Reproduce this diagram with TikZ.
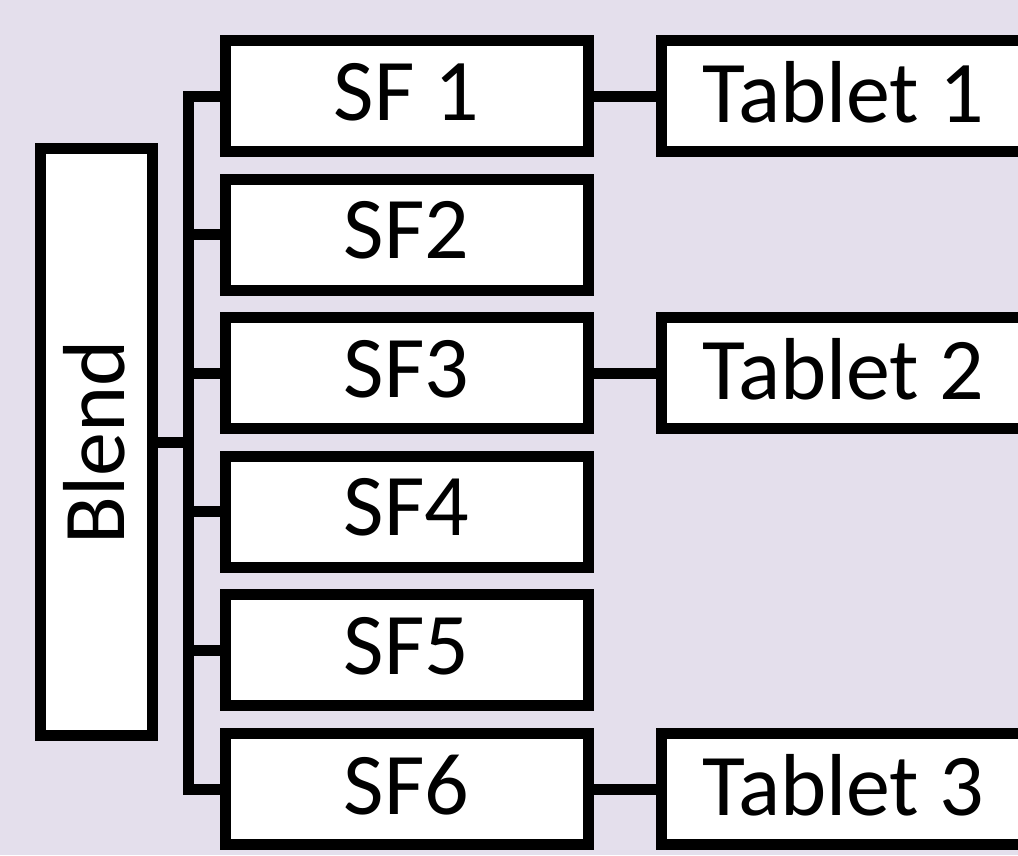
\documentclass[tikz,border=0pt]{standalone}
\usepackage{fontspec}
\setmainfont{Carlito}
\usetikzlibrary{
  positioning,
  calc}
\definecolor{bgcolor}{RGB}{228,223,236}
\tikzset{
  %% sfbox : a split fraction of the blend
  sfbox/.style={
    rectangle,
    draw=black,
    fill=white,
    line width=11pt,
    minimum width=363pt,
    minimum height=111pt,
    font=\fontsize{88}{100}\selectfont,
    text depth=9pt,
    align=center
  },
  %% tabletbox : a tablet pressed from a fraction
  tabletbox/.style={
    sfbox
  },
  %% blendbox : the blend itself, text runs upwards
  blendbox/.style={
    rectangle,
    draw=black,
    fill=white,
    line width=11pt,
    rotate=90,
    minimum width=587pt,
    minimum height=112pt,
    font=\fontsize{88}{100}\selectfont,
    text depth=6pt,
    align=center
  },
  %% link : connection between boxes
  link/.style={black, line width=11pt}
}

\begin{document}
\begin{tikzpicture}
  [x=1pt,
  y=-1pt,
  node distance=16.6pt and 62.5pt]

  \useasboundingbox (0, 0) rectangle (1018, 855);
  \clip (0, 0) rectangle (1018, 855);
  \fill [bgcolor] (0, 0) rectangle (1018, 855);

  %% Blend and its fractions
  \node (blend) [blendbox] at (96.5, 442) {Blend};

  \node (sf1) [sfbox] at (406.5, 96) {SF 1};
  \node (sf2) [sfbox, below=of sf1] {SF2};
  \node (sf3) [sfbox, below=of sf2] {SF3};
  \node (sf4) [sfbox, below=of sf3] {SF4};
  \node (sf5) [sfbox, below=of sf4] {SF5};
  \node (sf6) [sfbox, below=of sf5] {SF6};

  %% Tablets
  \node (tablet1) [tabletbox, right=of sf1] {Tablet 1};
  \node (tablet2) [tabletbox, right=of sf3] {Tablet 2};
  \node (tablet3) [tabletbox, right=of sf6] {Tablet 3};

  %% Connections
  \coordinate (bus) at (188.8, 0);
  \draw [link] (sf1.west) -- (sf1.west -| bus)
  -- (sf6.west -| bus) -- (sf6.west);
  \foreach \n in {2,...,5}
    \draw [link] (sf\n.west) -- (sf\n.west -| bus);
  \draw [link] (blend.south) -- (blend.south -| bus);

  \foreach \n/\t in {1/1, 3/2, 6/3}
    \draw [link] (sf\n.east) -- (tablet\t.west);

\end{tikzpicture}
\end{document}
